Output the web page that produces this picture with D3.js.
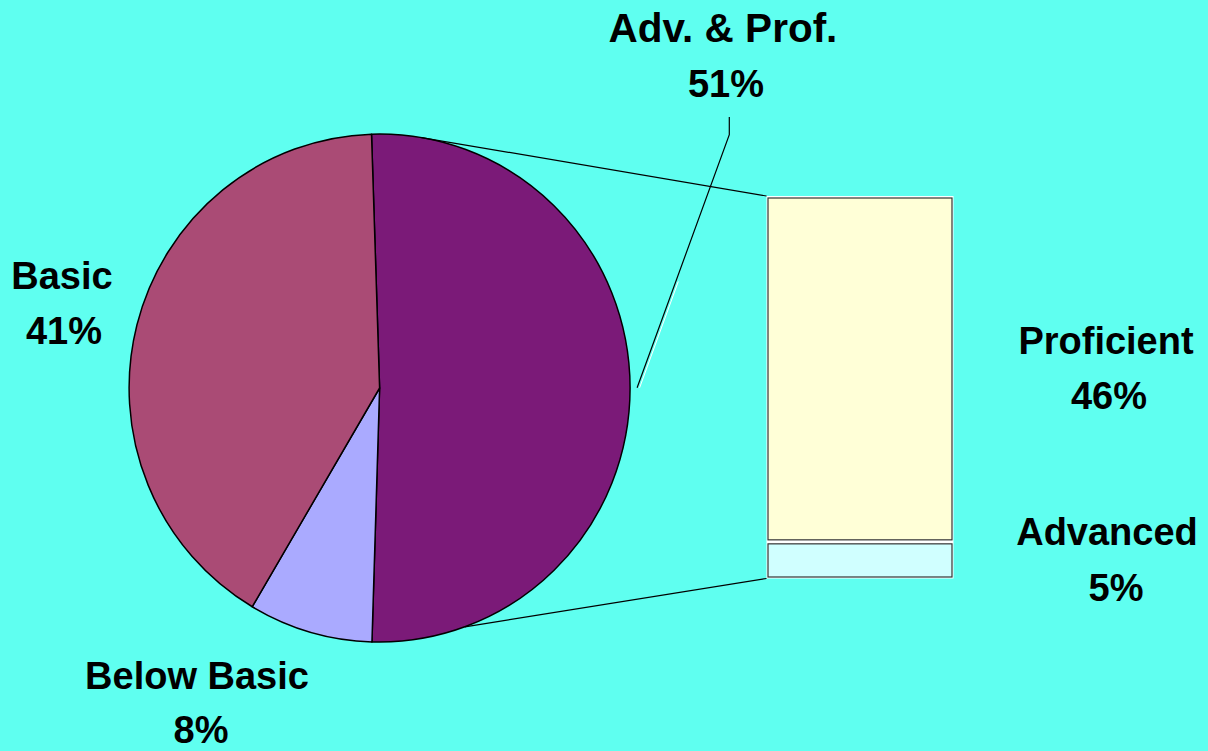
<!DOCTYPE html>
<html>
<head>
<meta charset="utf-8">
<script src="https://cdn.jsdelivr.net/npm/d3@7"></script>
<style>
  html, body { margin: 0; padding: 0; background: #5FFFF0; }
  svg { display: block; }
  text { font-family: "Liberation Sans", Arial, sans-serif; font-weight: bold; fill: #000; }
</style>
</head>
<body>
<script>
// ---- data ----
const categories = ["Adv. & Prof.", "Below Basic", "Basic"];
const values = [51, 8, 41];
const colors = ["#7B1A78", "#AAAAFF", "#AA4B75"];

const subCategories = ["Proficient", "Advanced"];
const subValues = [46, 5];
const subColors = ["#FFFFD7", "#D0FFFF"];

// ---- layout (style only) ----
const W = 1208, H = 751;
const cx = 379.6, cy = 388, RY = 254, RX = 250.5;
const startDeg = -1.85;
const barX0 = 768, barX1 = 952, barTop = 198, barBottom = 577;
const fontSize = 38;

const pieLabelPos = [
  { x: 723, x2: 726, y1: 42, y2: 97, size1: 40.5 }, // Adv. & Prof.
  { x: 197, x2: 201, y1: 689, y2: 743 },            // Below Basic
  { x: 62, x2: 64, y1: 289, y2: 344 }               // Basic
];
const subLabelPos = [
  { x1: 1106, x2: 1109, y1: 354, y2: 409 }, // Proficient
  { x1: 1107, x2: 1116, y1: 545, y2: 601 }  // Advanced
];

const svg = d3.select("body").append("svg").attr("width", W).attr("height", H);
svg.append("rect").attr("width", W).attr("height", H).attr("fill", "#5FFFF0");

const rad = d => d * Math.PI / 180;
const pie = d3.pie().sort(null).value(d => d)
  .startAngle(rad(startDeg)).endAngle(rad(startDeg) + 2 * Math.PI);
const arcs = pie(values);
const arc = d3.arc().innerRadius(0).outerRadius(RY);

const g = svg.append("g").attr("transform", `translate(${cx},${cy}) scale(${RX / RY},1)`);

// ---- stacked bar (pie-of-bar) ----
const total = d3.sum(subValues);
const y = d3.scaleLinear().domain([0, total]).range([barBottom, barTop]);
svg.append("rect")
  .attr("x", barX0 - 1.5).attr("y", y(total) - 2)
  .attr("width", barX1 - barX0 + 3).attr("height", y(0) - y(total) + 3.5)
  .attr("fill", "#FFFFFF");
let cum = total;
subValues.forEach((v, i) => {
  const top = y(cum);
  const bot = y(cum - v);
  const yTop = i === 0 ? top : top + 4;
  svg.append("rect")
    .attr("x", barX0).attr("y", yTop)
    .attr("width", barX1 - barX0).attr("height", bot - yTop)
    .attr("fill", subColors[i])
    .attr("stroke", "#333333").attr("stroke-width", 1.2);
  cum -= v;
});

// ---- connector lines from pie to bar ----
const ptOnPie = (deg, extra = 0) => [cx + (RX + extra) * Math.sin(rad(deg)), cy - (RY + extra) * Math.cos(rad(deg))];
const topA = ptOnPie(9.6), botA = ptOnPie(160.1);
svg.append("line")
  .attr("x1", topA[0]).attr("y1", topA[1])
  .attr("x2", barX0 - 1.5).attr("y2", y(total) - 2)
  .attr("stroke", "#000").attr("stroke-width", 1.2);
svg.append("line")
  .attr("x1", botA[0]).attr("y1", botA[1])
  .attr("x2", barX0 - 1.5).attr("y2", y(0) + 1.5)
  .attr("stroke", "#000").attr("stroke-width", 1.2);

// ---- pie slices ----
g.selectAll("path.slice").data(arcs).join("path")
  .attr("class", "slice")
  .attr("d", arc)
  .attr("fill", (d, i) => colors[i])
  .attr("stroke", "#000").attr("stroke-width", 1.5)
  .attr("stroke-linejoin", "round");

// ---- leader line for Adv. & Prof. ----
const a0 = arcs[0];
const midDeg = ((a0.startAngle + a0.endAngle) / 2) * 180 / Math.PI;
const lp = ptOnPie(midDeg, 7);
const kneeX = 729.3, kneeY = 134.7, endY = 117;
const tFrac = 0.42;
svg.append("line")
  .attr("x1", lp[0] + 2.5).attr("y1", lp[1])
  .attr("x2", lp[0] + 2.5 + (kneeX - lp[0]) * tFrac).attr("y2", lp[1] + (kneeY - lp[1]) * tFrac)
  .attr("stroke", "#FFFFFF").attr("stroke-width", 1);
svg.append("polyline")
  .attr("points", [[lp[0], lp[1]], [kneeX, kneeY], [kneeX, endY]].map(p => p.join(",")).join(" "))
  .attr("fill", "none").attr("stroke", "#000").attr("stroke-width", 1.2);

// ---- labels ----
const lbl = svg.append("g").attr("font-size", fontSize).attr("text-anchor", "middle");
categories.forEach((c, i) => {
  const p = pieLabelPos[i];
  const t = lbl.append("text").attr("x", p.x).attr("y", p.y1).text(c);
  if (p.size1) t.attr("font-size", p.size1);
  lbl.append("text").attr("x", p.x2).attr("y", p.y2).text(values[i] + "%");
});
subCategories.forEach((c, i) => {
  const p = subLabelPos[i];
  lbl.append("text").attr("x", p.x1).attr("y", p.y1).text(c);
  lbl.append("text").attr("x", p.x2).attr("y", p.y2).text(subValues[i] + "%");
});
</script>
</body>
</html>
